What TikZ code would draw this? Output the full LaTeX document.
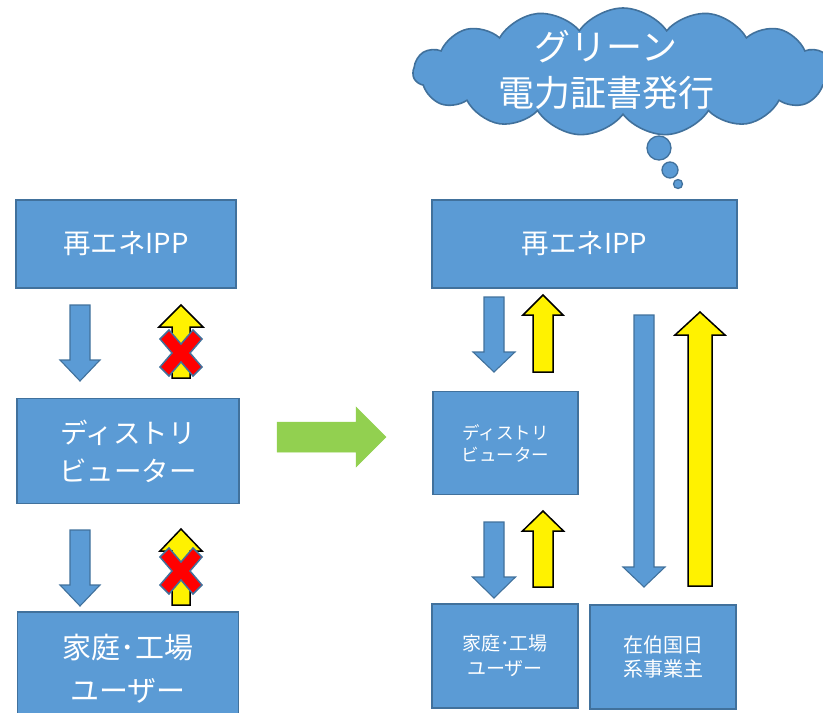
\documentclass[tikz,border=0pt]{standalone}
\usepackage{fontspec}
\newfontfamily\jpfont{Noto Sans CJK JP}
\usetikzlibrary{shapes.symbols}
\definecolor{boxblue}{HTML}{5B9BD5}
\definecolor{edgeblue}{HTML}{41719C}
\definecolor{arrgreen}{HTML}{92D050}
\tikzset{
  box/.style={draw=edgeblue, fill=boxblue, line width=1.6pt, text=white, align=center, inner sep=0pt},
  fsz/.style 2 args={font=\jpfont\fontsize{#1}{#2}\selectfont},
  bluearr/.style={draw=edgeblue, fill=boxblue, line width=1.1pt, line join=miter},
  yelarr/.style={draw=black, fill=yellow, line width=1.5pt, line join=miter},
  xmark/.style={draw=edgeblue, fill=red, line width=1.5pt, line join=miter},
  greenarr/.style={fill=arrgreen, draw=arrgreen, line width=0.5pt},
  bubble/.style={circle, draw=edgeblue, fill=boxblue, line width=1.3pt, inner sep=0pt},
}
\newcommand{\dnarrow}[7]{\draw[#1] (#2-#5,#3) -- (#2+#5,#3) -- (#2+#5,#4-#7) -- (#2+#6,#4-#7) -- (#2,#4) -- (#2-#6,#4-#7) -- (#2-#5,#4-#7) -- cycle;}
\newcommand{\uparrowshape}[7]{\draw[#1] (#2-#5,#3) -- (#2+#5,#3) -- (#2+#5,#4+#7) -- (#2+#6,#4+#7) -- (#2,#4) -- (#2-#6,#4+#7) -- (#2-#5,#4+#7) -- cycle;}
\newcommand{\crossmark}[2]{\draw[xmark] (#1-21,#2-14) -- (#1-12,#2-23) -- (#1,#2-9) -- (#1+12,#2-23) -- (#1+21,#2-14) -- (#1+9,#2) -- (#1+21,#2+14) -- (#1+12,#2+23) -- (#1,#2+9) -- (#1-12,#2+23) -- (#1-21,#2+14) -- (#1-9,#2) -- cycle;}
\begin{document}
\begin{tikzpicture}[x=1pt,y=-1pt]
\useasboundingbox (0,0) rectangle (823,713);
\clip (0,0) rectangle (823,713);
% left column
\node[box, fsz={27.5}{36}, minimum width=220pt, minimum height=88pt] (l1) at (126,244) {再エネIPP};
\node[box, fsz={27.5}{38}, minimum width=222pt, minimum height=105pt] (l2) at (128,451) {ディストリ\\ビューター};
\node[box, fsz={29}{43}, minimum width=221pt, minimum height=114pt] (l3) at (128,669) {家庭･工場\\ユーザー};
\dnarrow{bluearr}{80}{305}{381}{10}{20}{21}
\dnarrow{bluearr}{80}{530}{606}{10}{20}{21}
\uparrowshape{yelarr}{181}{378}{305}{9}{22}{22}
\uparrowshape{yelarr}{181}{605}{529}{9}{21}{22}
\crossmark{181}{353}
\crossmark{181}{571}
% green arrow
\draw[greenarr] (277,422) -- (356,422) -- (356,407) -- (386,437) -- (356,467) -- (356,452) -- (277,452) -- cycle;
% right column
\node[cloud, cloud puffs=15, cloud puff arc=110, aspect=3.4, draw=edgeblue, fill=boxblue, line width=1.6pt, minimum width=420pt, minimum height=128pt] (cl) at (623,72) {};
\node[text=white, align=center, fsz={36}{46}] (cltxt) at (606,70) {グリーン\\電力証書発行};
\node[bubble, minimum size=24pt] (b1) at (659,148) {};
\node[bubble, minimum size=16pt] (b2) at (670,170) {};
\node[bubble, minimum size=9pt] (b3) at (678,184) {};
\node[box, fsz={27.5}{36}, minimum width=305pt, minimum height=88pt] (r1) at (584.5,244) {再エネIPP};
\node[box, fsz={17.5}{22}, minimum width=145pt, minimum height=103pt] (r2) at (505.5,443) {ディストリ\\ビューター};
\node[box, fsz={19}{25}, minimum width=146pt, minimum height=104pt] (r3) at (505,656) {家庭･工場\\ユーザー};
\node[box, fsz={20}{24}, minimum width=146pt, minimum height=104pt] (r4) at (663,657) {在伯国日\\系事業主};
\dnarrow{bluearr}{494}{297}{372}{10}{21}{20}
\dnarrow{bluearr}{494}{522}{598}{10}{21.5}{21}
\uparrowshape{yelarr}{543}{372}{295}{10}{20}{20}
\uparrowshape{yelarr}{543}{587}{511}{10}{20.5}{20}
\dnarrow{bluearr}{644}{315}{587}{10}{21}{20}
\uparrowshape{yelarr}{700}{586}{312}{12}{25}{23}
\end{tikzpicture}
\end{document}
